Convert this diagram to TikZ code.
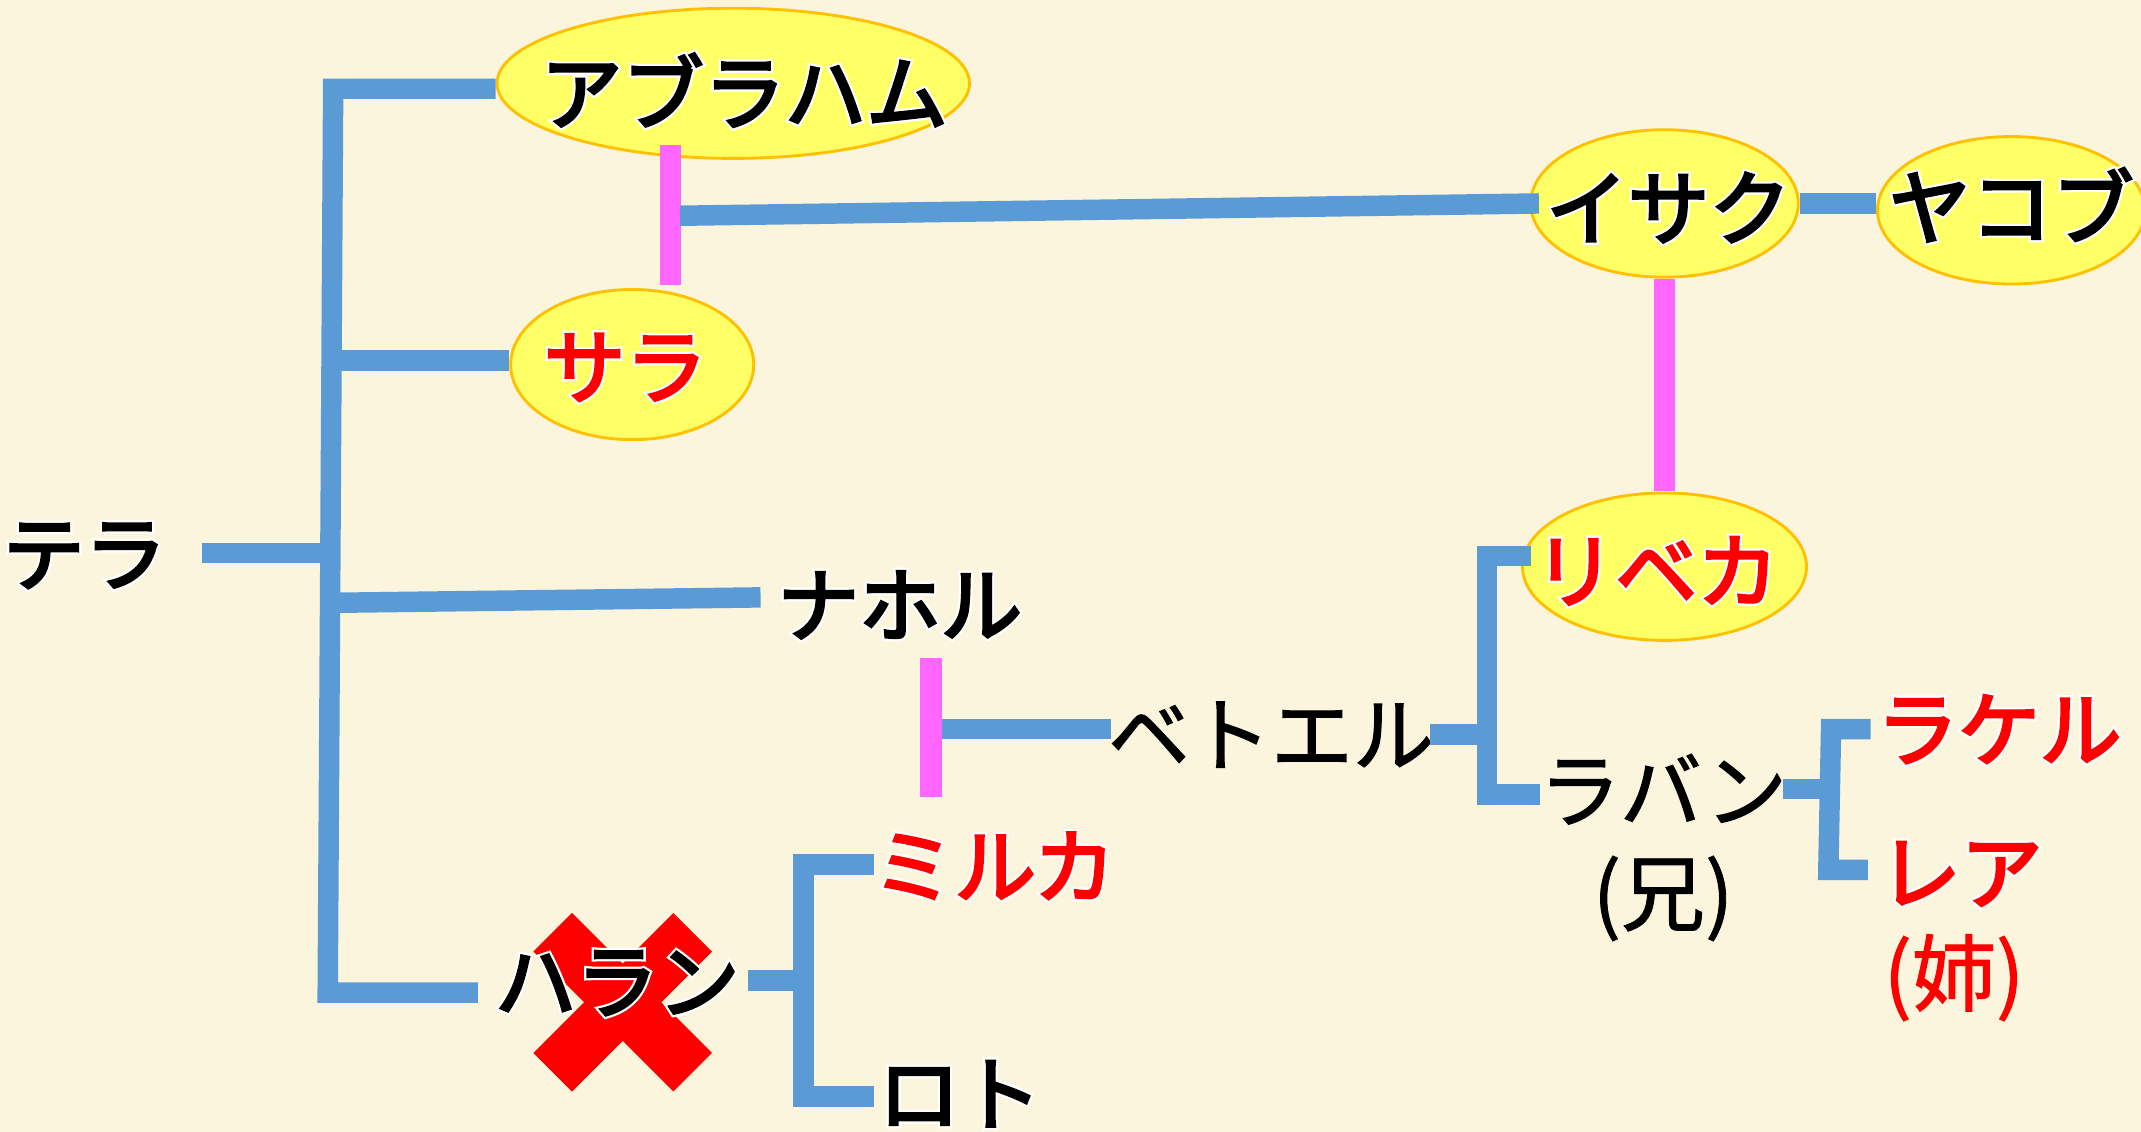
\documentclass[tikz,border=0pt]{standalone}
\usepackage{fontspec}
\newfontfamily\jp{Noto Sans CJK JP}
\newfontfamily\jpb{Noto Sans CJK JP}[FakeBold=3.5]
\usetikzlibrary{shapes.geometric}
\definecolor{bgc}{RGB}{252,245,222}
\definecolor{lblue}{RGB}{91,155,213}
\definecolor{lpink}{RGB}{255,102,255}
\definecolor{efill}{RGB}{255,255,102}
\definecolor{edraw}{RGB}{255,192,0}
\newcommand\gl[1]{\ooalign{\hfil{\color{white}\addfontfeature{FakeBold=9}#1}\hfil\cr\hfil#1\hfil\cr}}
\begin{document}
\begin{tikzpicture}[x=0.02cm,y=-0.02cm,
  bl/.style={draw=lblue,line width=0.3cm},
  pk/.style={draw=lpink,line width=0.32cm},
  nm/.style={font=\jpb\fontsize{34pt}{40pt}\selectfont,inner sep=0pt},
  rg/.style={font=\jp\addfontfeature{FakeBold=1.5}\fontsize{34pt}{40pt}\selectfont,inner sep=0pt},
  sm/.style={font=\jp\addfontfeature{FakeBold=1}\fontsize{35pt}{40pt}\selectfont,inner sep=0pt},
  el/.style={ellipse,fill=efill,draw=edraw,line width=1.2pt,inner sep=0pt}]
\fill[bgc] (0,0) rectangle (1568,829);
\useasboundingbox (0,0) rectangle (1568,829);
% red cross behind Haran
\fill[red,rotate around={45:(456,734)}] (383.5,714) rectangle (528.5,754);
\fill[red,rotate around={-45:(456,734)}] (383.5,714) rectangle (528.5,754);
% ellipses
\node[el,minimum width=346*0.02cm,minimum height=110*0.02cm] (abraham) at (537,61) {};
\node[el,minimum width=178*0.02cm,minimum height=110*0.02cm] (sara) at (463,267) {};
\node[el,minimum width=196*0.02cm,minimum height=108*0.02cm] (isaac) at (1219,149) {};
\node[el,minimum width=196*0.02cm,minimum height=108*0.02cm] (jacob) at (1473,154) {};
\node[el,minimum width=208*0.02cm,minimum height=108*0.02cm] (rebekah) at (1219,415) {};
% names
\node[nm] (teraT) at (62,407) {\gl{テラ}};
\node[nm] (abrahamT) at (545,66) {\gl{アブラハム}};
\node[nm,text=red] (saraT) at (458,269) {\gl{サラ}};
\node[nm] (isaacT) at (1222,152) {\gl{イサク}};
\node[nm] (jacobT) at (1473,150) {\gl{ヤコブ}};
\node[nm,text=red] (rebekahT) at (1213,418) {\gl{リベカ}};
\node[nm] (nahor) at (659,443) {\gl{ナホル}};
\node[rg] (bethuel) at (931,538) {ベトエル};
\node[rg] (laban) at (1218,578) {ラバン};
\node[sm] (ani) at (1218,658) {(兄)};
\node[nm,text=red] (rachel) at (1464,534) {\gl{ラケル}};
\node[nm,text=red] (leah) at (1436,640) {\gl{レア}};
\node[sm,text=red] (ane) at (1431,716) {(姉)};
\node[nm,text=red] (milcah) at (728,634) {\gl{ミルカ}};
\node[nm] (haran) at (452,720) {\gl{ハラン}};
\node[nm] (lot) at (703,801) {\gl{ロト}};
% junction coordinates
\coordinate (tA) at (244,65);
\coordinate (tB) at (240,727);
\coordinate (haranL) at (350,727);
\coordinate (teraL) at (148,405);
\coordinate (teraR) at (242,405);
\coordinate (saraL) at (242,264);
\coordinate (nahorL) at (242,441.5);
\coordinate (nahorR) at (557,437.5);
\coordinate (asTop) at (491,106);
\coordinate (asBot) at (491,209);
\coordinate (asMid) at (498,158);
\coordinate (isaacL) at (1127,149);
\coordinate (nmTop) at (682,482);
\coordinate (nmBot) at (682,584);
\coordinate (nmMid) at (690,534);
\coordinate (bethL) at (814,534);
\coordinate (bethR) at (1047,538);
\coordinate (bA) at (1089,538);
\coordinate (bTop) at (1089,407);
\coordinate (bBot) at (1089,582);
\coordinate (rebL) at (1121,407);
\coordinate (labL) at (1128,582);
\coordinate (labR) at (1306,578);
\coordinate (lA) at (1340,578);
\coordinate (lTop) at (1341,534);
\coordinate (lBot) at (1339,637);
\coordinate (racL) at (1370,534);
\coordinate (leaL) at (1368,637);
\coordinate (harR) at (548,718);
\coordinate (hA) at (588.5,718);
\coordinate (hTop) at (588.5,633);
\coordinate (hBot) at (588.5,803);
\coordinate (milL) at (640,633);
\coordinate (lotL) at (640,803);
% connectors
\draw[bl,line join=miter] (abraham.west |- tA) -- (tA) -- (tB) -- (haranL);
\draw[bl] (saraL) -- (sara.west |- saraL);
\draw[bl] (teraL) -- (teraR);
\draw[bl] (nahorL) -- (nahorR);
\draw[pk] (asTop) -- (asBot);
\draw[bl] (asMid) -- (isaacL);
\draw[bl] (isaac.east) -- (jacob.west |- isaac.east);
\draw[pk] (isaac.south) -- (rebekah.north);
\draw[pk] (nmTop) -- (nmBot);
\draw[bl] (nmMid) -- (bethL);
\draw[bl] (bethR) -- (bA);
\draw[bl,line join=miter] (rebL) -- (bTop) -- (bBot) -- (labL);
\draw[bl] (labR) -- (lA);
\draw[bl,line join=miter] (racL) -- (lTop) -- (lBot) -- (leaL);
\draw[bl] (harR) -- (hA);
\draw[bl,line join=miter] (milL) -- (hTop) -- (hBot) -- (lotL);
\end{tikzpicture}
\end{document}
